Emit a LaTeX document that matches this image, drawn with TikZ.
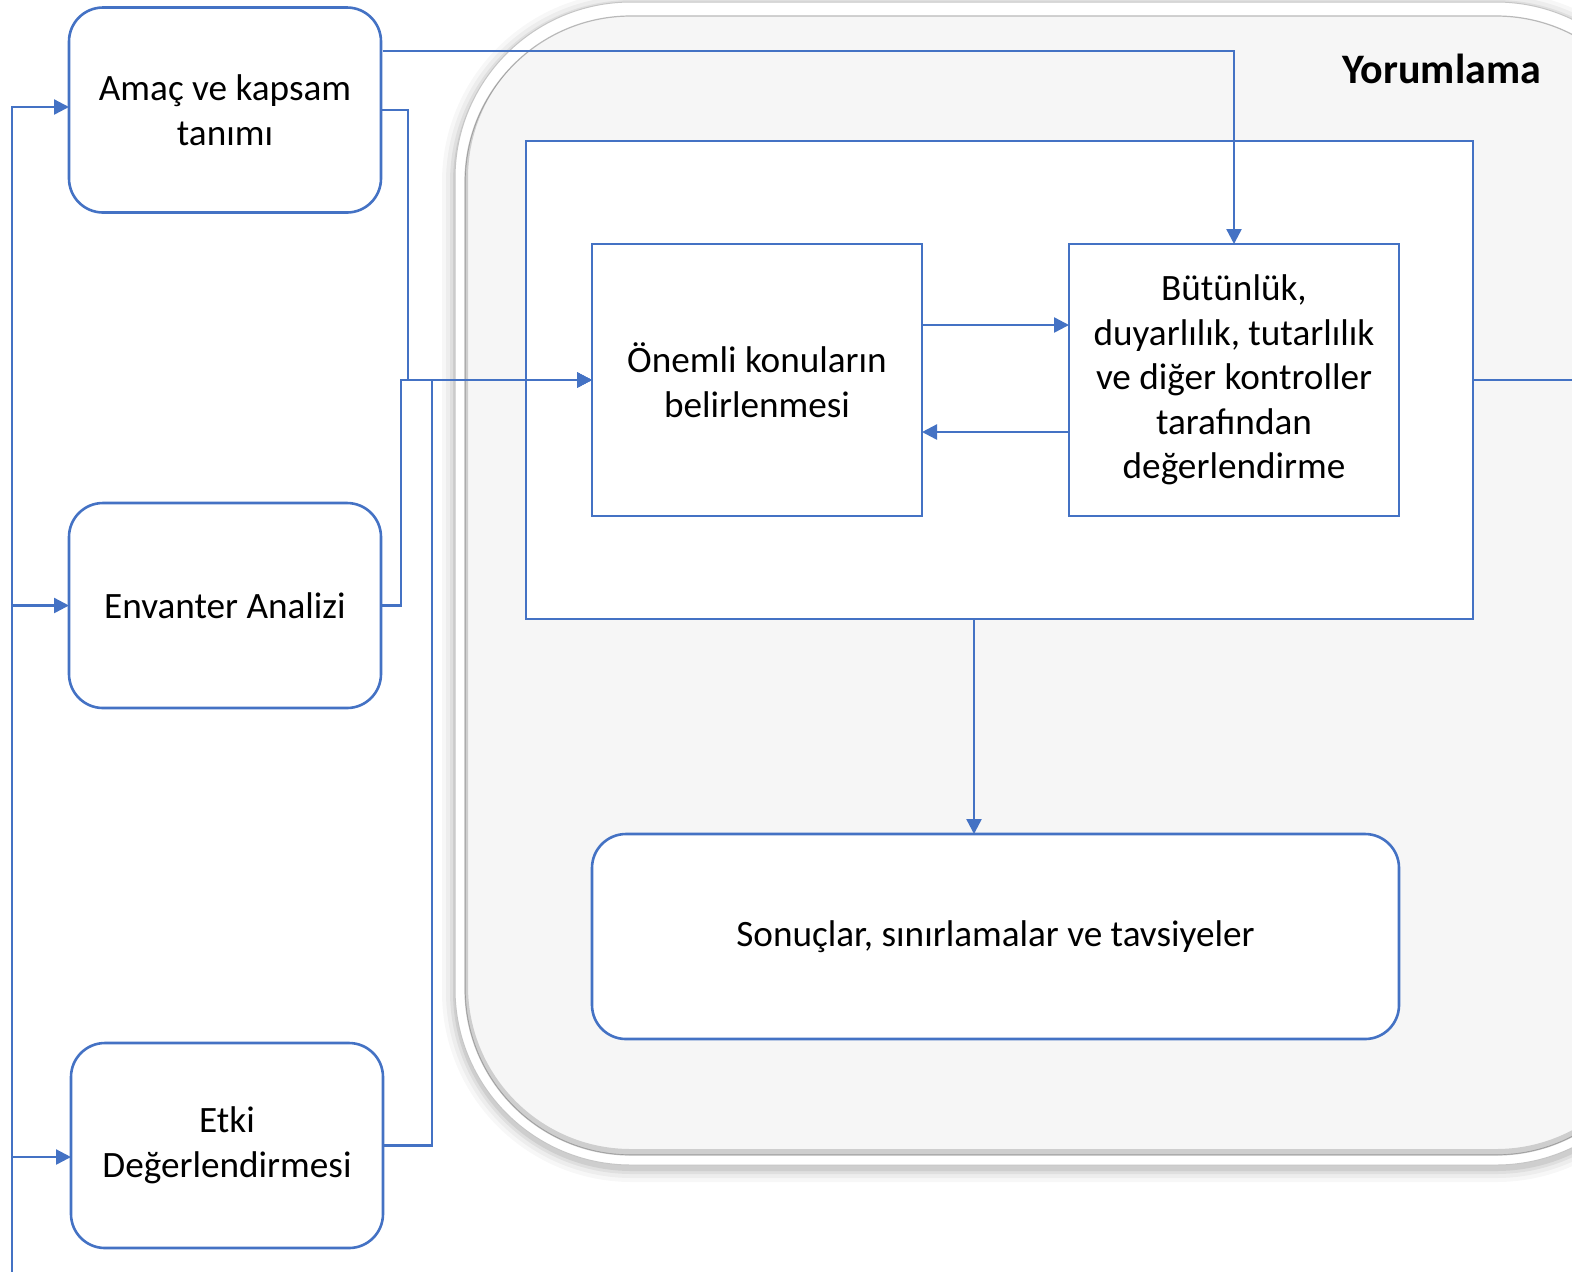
\documentclass[tikz,border=0pt]{standalone}
\usepackage{fontspec}
\setmainfont{Carlito}
\usetikzlibrary{arrows.meta}
\definecolor{lineblue}{HTML}{4472C4}
\definecolor{panel}{HTML}{F6F6F6}
\begin{document}
\begin{tikzpicture}[x=0.5pt,y=-0.5pt,
  txt/.style={font=\fontsize{18.6}{22.3}\selectfont, align=center, text=black},
  roundbox/.style={txt, draw=lineblue, fill=white, line width=1.3pt, rounded corners=17pt,
    minimum width=156pt, minimum height=102.5pt, inner sep=0pt, outer sep=0pt},
  sqbox/.style={txt, draw=lineblue, fill=white, line width=1.2pt,
    minimum width=165pt, minimum height=136pt, inner sep=0pt, outer sep=0pt},
  link/.style={draw=lineblue, line width=1.2pt},
  arr/.style={link, -{Triangle[length=7.5pt,width=7.5pt]}}]

\useasboundingbox (0,0) rectangle (1572,1271);
\clip (0,0) rectangle (1572,1271);

% soft shadow under the interpretation panel
\foreach \w/\o in {14/0.03,10/0.04,6/0.06,3/0.08}{
  \draw[rounded corners=88pt, draw=black, opacity=\o, line width=\w pt]
    (456,6) rectangle (1672,1168);
}
% white rim and grey panel
\draw[rounded corners=88pt, fill=white, draw=gray!45, line width=0.5pt]
  (455,2) rectangle (1672,1165);
\draw[rounded corners=83pt, fill=panel, draw=gray!55, line width=0.6pt]
  (465,16) rectangle (1662,1155);
\begin{scope}
  \clip[rounded corners=83pt] (465,16) rectangle (1662,1155);
  \draw[rounded corners=83pt, draw=black, opacity=0.16, line width=3pt]
    (465,12) rectangle (1662,1152);
\end{scope}

\node[anchor=base east, font=\bfseries\fontsize{21}{25}\selectfont] (title) at (1548,83) {Yorumlama};

% inner frame
\node[draw=lineblue, fill=white, line width=1.2pt, minimum width=473.5pt, minimum height=239pt,
  inner sep=0pt, outer sep=0pt] (W) at (999.5,380) {};

% left column
\node[roundbox] (A) at (225,110) {Amaç ve kapsam\\tanımı};
\node[roundbox] (E) at (225,605.5) {Envanter Analizi};
\node[roundbox] (D) at (227,1145.5) {Etki\\Değerlendirmesi};

% boxes inside the frame
\node[sqbox] (O) at (757,380) {Önemli konuların\\belirlenmesi};
\node[sqbox] (B) at (1234,380) {Bütünlük,\\duyarlılık, tutarlılık\\ve diğer kontroller\\tarafından\\değerlendirme};

\node[roundbox, minimum width=403.5pt] (S) at (995.5,936.5) {Sonuçlar, sınırlamalar ve tavsiyeler};

% connectors
\draw[arr] ([shift={(2,-59)}]A.east) -| (B.north);
\draw[arr] (A.east) -- ++(27,0) |- (O.west);
\draw[arr] (E.east) -- ++(20,0) |- (O.west);
\draw[arr] (D.east) -- ++(49,0) |- (O.west);

\draw[arr] ([shift={(0,-55)}]O.east) -- ([shift={(0,-55)}]B.west);
\draw[arr] ([shift={(0,52)}]B.west) -- ([shift={(0,52)}]O.east);

\draw[arr] ([shift={(-25.5,0)}]W.south) -- ([shift={(-21.5,0)}]S.north);

\coordinate (out) at (1580,380);
\draw[draw=lineblue, line width=0.6pt] (W.east) -- (out);

% feedback line on the left
\coordinate (fb) at (12,1280);
\coordinate (dIn) at ([shift={(0,11.5)}]D.west);
\draw[arr] (fb) |- ([shift={(0,-3)}]A.west);
\draw[arr] (fb |- E.west) -- (E.west);
\draw[arr] (fb |- dIn) -- (dIn);

\end{tikzpicture}
\end{document}
